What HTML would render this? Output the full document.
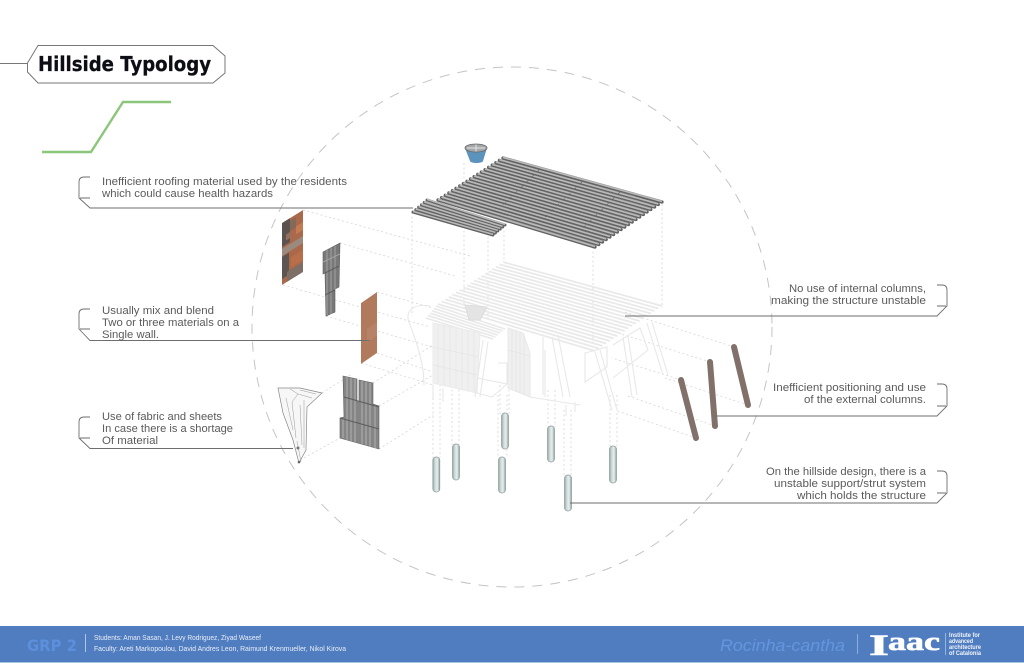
<!DOCTYPE html>
<html lang="en">
<head>
<meta charset="utf-8">
<title>Hillside Typology</title>
<style>
html,body{margin:0;padding:0;background:#fff;width:1024px;height:663px;overflow:hidden}
svg{display:block}
.l{font-family:"Liberation Sans",sans-serif;font-size:11px;fill:#5a5a5a}
.b{fill:none;stroke:#6e6e6e;stroke-width:.9}
.d{fill:none;stroke:#d6d6d6;stroke-width:.8;stroke-dasharray:2 2.5}
.g{fill:none;stroke:#e8e8e8;stroke-width:1.1}
</style>
</head>
<body>
<svg width="1024" height="663" viewBox="0 0 1024 663" xmlns="http://www.w3.org/2000/svg">
<defs>
<linearGradient id="cyl" x1="0" x2="1" y1="0" y2="0">
<stop offset="0" stop-color="#97a9a7"/><stop offset=".35" stop-color="#d2dddb"/><stop offset=".65" stop-color="#e6eeed"/><stop offset="1" stop-color="#8da1a1"/>
</linearGradient>
<path id="main" d="M503 158L662 202M499.4 160.3L658.3 204.5M495.8 162.7L654.6 207M492.2 165L650.8 209.5M488.6 167.3L647.1 212M485 169.7L643.4 214.5M481.3 172L639.7 217M477.7 174.3L636 219.5M474.1 176.6L632.2 222M470.5 179L628.5 224.5M466.9 181.3L624.8 227M463.3 183.6L621.1 229.5M459.7 186L617.4 232M456 188.3L613.6 234.5M452.4 190.6L609.9 237M448.8 193L606.2 239.5M445.2 195.3L602.5 242M441.6 197.6L598.8 244.5M438 200L595 247"/>
<path id="small" d="M427 200L505 225M424.2 202.4L502.6 227M421.4 204.8L500.2 229M418.6 207.2L497.8 231M415.8 209.6L495.4 233M413 212L493 235"/>
<clipPath id="p1"><polygon points="0,0 21,0 21,62 0,62"/></clipPath>
<clipPath id="p3"><polygon points="0,0 16,0 16,61 0,61"/></clipPath>
</defs>

<rect width="1024" height="663" fill="#fff"/>

<!-- large dashed circle -->
<circle cx="512" cy="327" r="260" fill="none" stroke="#c4c4c4" stroke-width="1" stroke-dasharray="10 8"/>

<!-- projection lines -->
<path class="d" d="M412 212V316M464 163V310M488 232V320M504 226V262M593 247V345M662 204V308
M433 380V458M440 380V458M452 385V445M459 385V445M500 385V414M509 385V414M498 395V458M507 395V458M548 390V427M555 390V427M564 410V476M571 410V476M610 395V447M617 395V447"/>
<path class="d" d="M303 210L470 256M340 243L455 276M283 285L430 327M326 316L432 347M377 292L433 308M377 353L433 372M361 363L433 385M322 393L352 374M300 460L340 438M373 383L433 345M379 406L433 375M379 449L433 415"/>
<path class="d" d="M734 347L625 312M710 362L618 333M681 380L612 358M748 405L665 378M715 426L628 396M696 438L615 410"/>

<!-- ghost house -->
<use href="#main" transform="translate(0 104)" fill="none" stroke="#e9e9e9" stroke-width="1.7"/>
<path d="M436 306L505 329M434 308.4L502.6 331M432 310.8L500.2 333M430 313.2L497.8 335M428 315.6L495.4 337M426 318L493 339" fill="none" stroke="#e9e9e9" stroke-width="1.7"/>
<polygon points="433,323 480,333 477,393 433,383" fill="#f0f0f0" stroke="#ebebeb"/>
<path d="M438 324V384M444 325V386M450 326V387M456 328V388M462 329V390M468 330V391M474 332V392M433 347L479 357M433 365L478 375" stroke="#e5e5e5" stroke-width=".8" fill="none"/>
<polygon points="508,328 523,333 530,353 530,397 508,388" fill="#f0f0f0" stroke="#e8e8e8"/>
<path d="M512 330V390M516 331V392M520 332V393M524 334V395M508 350L530 356" stroke="#e4e4e4" stroke-width=".8" fill="none"/>
<path class="g" d="M483 340L475 397M488 342L480 397M477 378L507 384L492 397L477 393M498 363H507V384
M430 306C412 303 404 312 410 325C420 350 424 370 424 385M433 385V398M443 388V402
M543 337V395M552 337L563 397M558 335L570 397M530 397L580 405M545 350V397
M585 353L607 347V367L585 382ZM595 352L612 410M600 350L617 410M623 337L632 397M628 336L637 395M647 323L663 375M652 322L668 375
M613 345L640 328L648 350L613 378M566 405V416M575 402V412"/>
<polygon points="465,305 487,307 480,320 469,320" fill="#e4e4e4" stroke="#dcdcdc"/>

<!-- real roof -->
<use href="#main" fill="none" stroke="#626262" stroke-width="3.3" stroke-linecap="round"/>
<use href="#main" transform="translate(0 -.6)" fill="none" stroke="#b9b9b9" stroke-width="1.7"/>
<use href="#small" fill="none" stroke="#626262" stroke-width="3" stroke-linecap="round"/>
<use href="#small" transform="translate(0 -.6)" fill="none" stroke="#b9b9b9" stroke-width="1.6"/>
<path d="M540 169L503 205M582 182L545 217M620 192L583 228" stroke="#666" stroke-width=".7" stroke-dasharray="3 5" fill="none"/>

<!-- bucket -->
<polygon points="465,148 487,148 483,161 470,161" fill="#5b93bd"/>
<ellipse cx="476.5" cy="161" rx="6.5" ry="2" fill="#5b93bd"/>
<ellipse cx="476" cy="148" rx="11" ry="4" fill="#a5a8aa" stroke="#666" stroke-width=".8"/>
<path d="M467 148H485M476 144.5V151.5" stroke="#e5e5e5" stroke-width="1"/>

<!-- panel 1 -->
<g transform="matrix(1 -.62 0 1 282 223)" clip-path="url(#p1)">
<rect width="21" height="62" fill="#a9694a"/>
<rect x="0" y="0" width="8" height="24" fill="#5a5350"/>
<rect x="8" y="3" width="6" height="10" fill="#84685a"/>
<rect x="14" y="12" width="7" height="8" fill="#c47a52"/>
<rect x="4" y="14" width="5" height="6" fill="#93705e"/>
<rect x="0" y="26" width="21" height="7" fill="#9a8a80"/>
<rect x="0" y="34" width="7" height="22" fill="#5c5552"/>
<rect x="9" y="40" width="12" height="10" fill="#b96f4a"/>
<rect x="5" y="52" width="16" height="10" fill="#7d6f66"/>
</g>

<!-- panel 2 -->
<polygon points="323,252 340,243 339,287 335,289 335,312 326,316 325,273 323,274" fill="#787878" stroke="#5e5e5e" stroke-width=".6"/>
<path d="M327 250V315M331 248V314M335 246V289M323 262L340 254" stroke="#a2a2a2" stroke-width="1" fill="none"/>
<path d="M325 273L339 266M325 295L335 290" stroke="#555" stroke-width=".9" fill="none"/>

<!-- panel 3 -->
<g transform="matrix(1 -.69 0 1 361 303)" clip-path="url(#p3)">
<rect width="16" height="61" fill="#b17a5d"/>
<rect x="6" y="30" width="10" height="14" fill="#b78268"/>
</g>

<!-- panel 4 -->
<polygon points="343,376 357,379 357,402 359,402 359,380 373,383 373,404 379,406 379,449 340,438 340,418 344,417" fill="#858585" stroke="#616161" stroke-width=".6"/>
<path d="M347 377V440M351 378V441M355 379V442M362 381V445M366 382V446M370 383V447M375 405V448M343 418V438" stroke="#adadad" stroke-width="1.1" fill="none"/>
<path d="M344 397L379 407M340 418L379 429" stroke="#5c5c5c" stroke-width="1.1" fill="none"/>

<!-- fabric -->
<path d="M278 388L300 388L322 393L307 407L306 450L299 463L293 440L283 413Z" fill="#f7f7f7" stroke="#888" stroke-width=".7"/>
<path d="M290 389L298 394L292 402L296 438M298 394L312 398M300 390L316 394M286 398L293 430M300 405L302 445M297 441L301 462M304 400L304 448" fill="none" stroke="#999" stroke-width=".5"/>
<circle cx="298" cy="448" r="1.5" fill="#777"/>
<circle cx="299" cy="462" r="1.3" fill="#666"/>

<!-- external columns -->
<path d="M681 380L696 438M710 362L715 426M734 347L748 405" stroke="#81716a" stroke-width="6" stroke-linecap="round" fill="none"/>

<!-- struts -->
<g stroke="#8a9b9b" stroke-width=".7" fill="url(#cyl)">
<rect x="432.8" y="457" width="7" height="35" rx="3.2"/>
<rect x="452.5" y="444" width="7" height="36" rx="3.2"/>
<rect x="501.5" y="413" width="7" height="36" rx="3.2"/>
<rect x="498.5" y="457" width="7" height="36" rx="3.2"/>
<rect x="547.5" y="426" width="7" height="36" rx="3.2"/>
<rect x="609.5" y="446" width="7" height="37" rx="3.2"/>
<rect x="564.5" y="475" width="7" height="36" rx="3.2"/>
</g>

<!-- callouts left -->
<path class="b" d="M90 177H84Q79 177 79 182V198L90 208H413M80 198H90"/>
<path class="b" d="M90 309H84Q79 309 79 314V329L90 340.5H370M80 329H90"/>
<path class="b" d="M90 417H84Q79 417 79 422V438L90 448.5H293M80 438H90"/>
<text class="l" x="102" y="185" textLength="245" lengthAdjust="spacingAndGlyphs">Inefficient roofing material used by the residents</text>
<text class="l" x="102" y="197" textLength="171" lengthAdjust="spacingAndGlyphs">which could cause health hazards</text>
<text class="l" x="102" y="314" textLength="112" lengthAdjust="spacingAndGlyphs">Usually mix and blend</text>
<text class="l" x="102" y="326" textLength="137" lengthAdjust="spacingAndGlyphs">Two or three materials on a</text>
<text class="l" x="102" y="338" textLength="57" lengthAdjust="spacingAndGlyphs">Single wall.</text>
<text class="l" x="102" y="420" textLength="120" lengthAdjust="spacingAndGlyphs">Use of fabric and sheets</text>
<text class="l" x="102" y="432" textLength="131" lengthAdjust="spacingAndGlyphs">In case there is a shortage</text>
<text class="l" x="102" y="444" textLength="56" lengthAdjust="spacingAndGlyphs">Of material</text>

<!-- callouts right -->
<path class="b" d="M937 285H942Q947 285 947 290V306L937 316H625M946 306H937"/>
<path class="b" d="M937 384H942Q947 384 947 389V406L937 416H713M946 406H937"/>
<path class="b" d="M937 471H942Q947 471 947 476V493L937 503H570M946 493H937"/>
<text class="l" x="789" y="292" textLength="137" lengthAdjust="spacingAndGlyphs">No use of internal columns,</text>
<text class="l" x="771" y="304" textLength="155" lengthAdjust="spacingAndGlyphs">making the structure unstable</text>
<text class="l" x="773" y="391" textLength="153" lengthAdjust="spacingAndGlyphs">Inefficient positioning and use</text>
<text class="l" x="804" y="403" textLength="122" lengthAdjust="spacingAndGlyphs">of the external columns.</text>
<text class="l" x="766" y="475" textLength="160" lengthAdjust="spacingAndGlyphs">On the hillside design, there is a</text>
<text class="l" x="774" y="487" textLength="152" lengthAdjust="spacingAndGlyphs">unstable support/strut system</text>
<text class="l" x="797" y="499" textLength="129" lengthAdjust="spacingAndGlyphs">which holds the structure</text>

<!-- title -->
<path d="M0 63.5H27" stroke="#777" stroke-width="1" fill="none"/>
<polygon points="27.5,63 38,45.5 213,45.5 225,56 225,73 213,83 38,83 27.5,72" fill="#fff" stroke="#777" stroke-width="1"/>
<text x="38" y="71" font-family="'DejaVu Sans',sans-serif" font-weight="700" font-size="20" fill="#0d0d14" stroke="#0d0d14" stroke-width=".3" textLength="173" lengthAdjust="spacingAndGlyphs">Hillside Typology</text>

<!-- green line -->
<polyline points="42,152 91,152 123,102 171,102" fill="none" stroke="#8cc67a" stroke-width="2.4"/>

<!-- footer -->
<rect x="0" y="626" width="1024" height="36" fill="#507dbf"/>
<rect x="0" y="662" width="1024" height="1" fill="#a9c4e0"/>
<text x="27" y="651" font-family="'DejaVu Sans',sans-serif" font-weight="700" font-size="16" fill="#5c90dc" textLength="50" lengthAdjust="spacingAndGlyphs">GRP 2</text>
<path d="M85.5 634V652" stroke="#c9d8ee" stroke-width=".8"/>
<text x="94" y="640" font-family="'Liberation Sans',sans-serif" font-size="7.5" fill="#e8eef8" textLength="167" lengthAdjust="spacingAndGlyphs">Students: Aman Sasan, J. Levy Rodriguez, Ziyad Waseef</text>
<text x="94" y="651" font-family="'Liberation Sans',sans-serif" font-size="7.5" fill="#e8eef8" textLength="252" lengthAdjust="spacingAndGlyphs">Faculty: Areti Markopoulou, David Andres Leon, Raimund Krenmueller, Nikol Kirova</text>
<text x="720" y="651" font-family="'Liberation Sans',sans-serif" font-style="italic" font-size="17" fill="#6496df" textLength="125" lengthAdjust="spacingAndGlyphs">Rocinha-cantha</text>
<path d="M857.5 634V654" stroke="#8fadd9" stroke-width="1"/>
<text x="869" y="655" font-family="'Liberation Serif',serif" font-weight="700" font-size="30" fill="#fff" stroke="#fff" stroke-width=".6" textLength="20" lengthAdjust="spacingAndGlyphs">I</text>
<text x="888" y="650" font-family="'Liberation Serif',serif" font-weight="700" font-size="26" fill="#fff" stroke="#fff" stroke-width=".6" textLength="52" lengthAdjust="spacingAndGlyphs">aac</text>
<path d="M945.5 633V655" stroke="#c9d8ee" stroke-width=".6"/>
<g font-family="'Liberation Sans',sans-serif" font-weight="700" font-size="6" fill="#f2f5fb">
<text x="949" y="637" textLength="31" lengthAdjust="spacingAndGlyphs">Institute for</text>
<text x="949" y="643" textLength="24" lengthAdjust="spacingAndGlyphs">advanced</text>
<text x="949" y="649" textLength="32" lengthAdjust="spacingAndGlyphs">architecture</text>
<text x="949" y="655" textLength="32" lengthAdjust="spacingAndGlyphs">of Catalonia</text>
</g>
</svg>
</body>
</html>
